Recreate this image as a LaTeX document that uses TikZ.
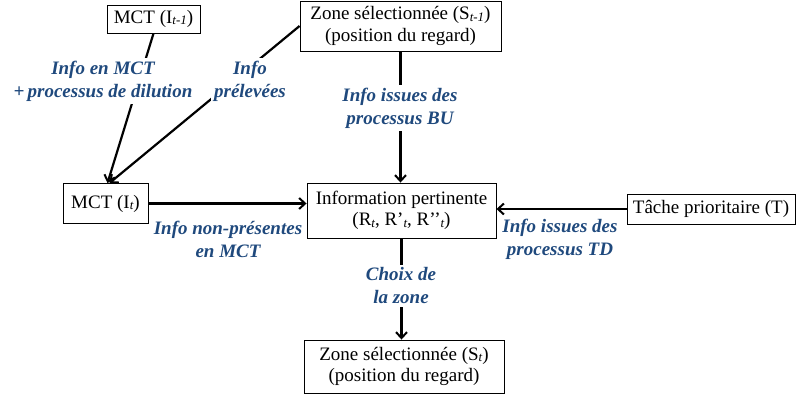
\documentclass[tikz,border=0pt]{standalone}
\usepackage{fontspec}
\setmainfont{Liberation Serif}
\usetikzlibrary{arrows.meta,calc}
\definecolor{lblue}{RGB}{31,73,125}
\newcommand{\sbx}[1]{\raisebox{-1.2pt}{\fontsize{13}{13}\selectfont\itshape #1}}
\begin{document}
\begin{tikzpicture}[x=1pt,y=-1pt,
  box/.style={draw,line width=0.9pt,fill=white,inner sep=0pt,align=center,
    font=\fontsize{19}{21.5}\selectfont},
  lab/.style={fill=white,inner sep=3pt,align=center,text=lblue,
    font=\fontsize{19}{23}\selectfont\bfseries\itshape},
  conn/.style={line width=2.2pt},
  arr/.style={conn,-{Straight Barb[length=6pt,width=11pt,line width=2pt]}}]
\useasboundingbox (0,0) rectangle (796,401);
\node[box,minimum width=93pt,minimum height=28pt] (m1) at (153.5,19) {MCT (I\sbx{t-1})};
\node[box,minimum width=201pt,minimum height=50pt] (s1) at (400.5,26) {Zone sélectionnée (S\sbx{t-1})\\(position du regard)};
\node[box,minimum width=85pt,minimum height=40pt] (m) at (105.5,203.5) {MCT (I\sbx{t})};
\node[box,minimum width=189pt,minimum height=55pt] (ip) at (401.5,210.5) {Information pertinente\\(R\sbx{t}, R’\sbx{t}, R’’\sbx{t})};
\node[box,minimum width=168pt,minimum height=30pt] (tp) at (711,209) {Tâche prioritaire (T)};
\node[box,minimum width=200pt,minimum height=53pt] (s) at (404,366.5) {Zone sélectionnée (S\sbx{t})\\(position du regard)};
\draw[arr] (m1.south) -- ($(m.north)+(2,0)$);
\draw[arr] (s1.west) -- ($(m.north)+(4,0)$);
\draw[arr] (s1.south) -- (s1.south |- ip.north);
\draw[arr] (m.east) -- (m.east -| ip.west);
\draw[arr] (tp.west) -- (tp.west -| ip.east);
\draw[arr] (ip.south) -- (ip.south |- s.north);
\node[lab] (l1) at (103,81) {Info en MCT\\+\,processus de dilution};
\node[lab] (l2) at (250,81) {Info\\prélevées};
\node[lab] (l3) at (400,108) {Info issues des\\processus BU};
\node[lab,fill=none] (l4) at (228,239) {Info non-présentes\\en MCT};
\node[lab,fill=none] (l5) at (560,239) {Info issues des\\processus TD};
\node[lab] (l6) at (401,286) {Choix de\\la zone};
\end{tikzpicture}
\end{document}
